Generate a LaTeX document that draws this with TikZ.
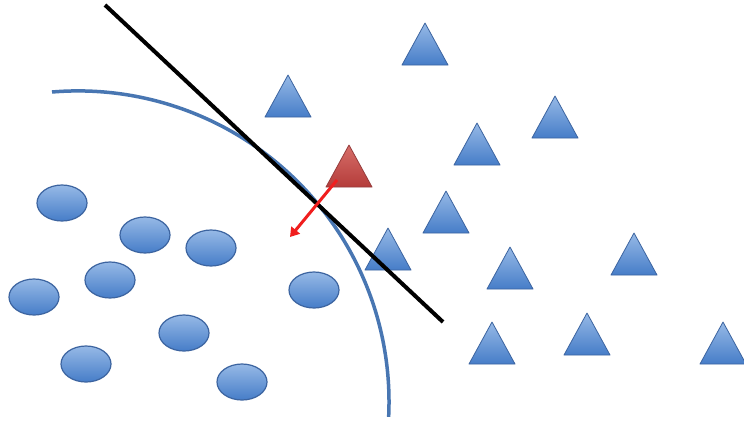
\documentclass[tikz,border=0pt]{standalone}
\usetikzlibrary{arrows.meta}
\definecolor{triTop}{RGB}{150,185,230}
\definecolor{triBot}{RGB}{70,125,200}
\definecolor{triEdge}{RGB}{60,100,160}
\definecolor{redTop}{RGB}{215,110,105}
\definecolor{redBot}{RGB}{180,60,58}
\definecolor{redEdge}{RGB}{150,60,60}
\definecolor{curveBlue}{RGB}{72,118,178}
\definecolor{arrowRed}{RGB}{240,30,30}
\tikzset{
  tri/.style={draw=triEdge, line width=0.8pt, top color=triTop, bottom color=triBot, line join=round},
  redtri/.style={draw=redEdge, line width=0.8pt, top color=redTop, bottom color=redBot, line join=round},
  ell/.style={draw=triEdge, line width=1.2pt, top color=triTop, bottom color=triBot},
  sepline/.style={line width=4pt, black},
  arc line/.style={line width=3.5pt, curveBlue},
  pusharrow/.style={line width=3pt, arrowRed, -{Triangle[length=9pt,width=11pt]}}
}
\newcommand{\mytri}[3][tri]{\draw[#1] (#2,#3) -- ++(23,42) -- ++(-46,0) -- cycle;}
\begin{document}
\begin{tikzpicture}[x=1pt,y=-1pt]
\useasboundingbox[fill=white] (0,0) rectangle (744,421);
% ellipses
\foreach \n/\cx/\cy in {e1/62/203, e2/145/235, e3/211/248, e4/110/280, e5/34/297, e6/184/333, e7/86/364, e8/242/382, e9/314/290}{
  \draw[ell] (\cx,\cy) ellipse [x radius=25, y radius=18];
  \coordinate (\n) at (\cx,\cy);
}
% blue boundary curve
\draw[arc line] (52,92) arc[start angle=-94.8, end angle=2.75, radius=311];
% triangles
\mytri{425}{23}
\mytri{288}{75}
\mytri{555}{96}
\mytri{477}{123}
\mytri{446}{191}
\mytri{388}{228}
\mytri{510}{247}
\mytri{634}{233}
\mytri{492}{322}
\mytri{587}{313}
\mytri{723}{322}
\mytri[redtri]{349}{145}
% black separating line
\coordinate (lineA) at (105,5);
\coordinate (lineB) at (443,322);
\draw[sepline] (lineA) -- (lineB);
% red arrow
\coordinate (arrS) at (337,180);
\coordinate (arrE) at (290,237);
\draw[pusharrow] (arrS) -- (arrE);
\end{tikzpicture}
\end{document}
